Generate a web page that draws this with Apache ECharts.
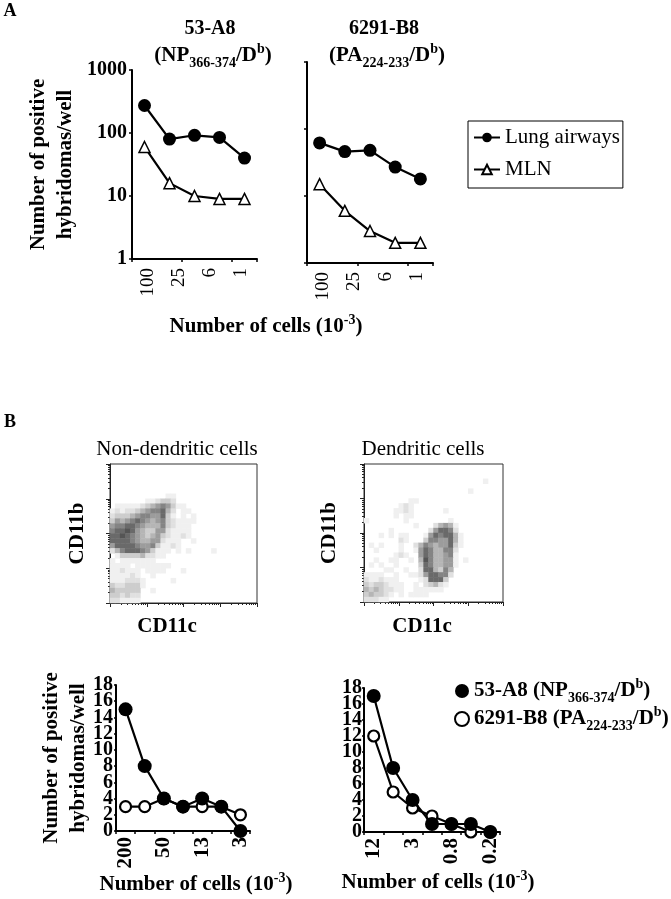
<!DOCTYPE html>
<html><head><meta charset="utf-8">
<style>html,body{margin:0;padding:0;background:#fff}#c{width:671px;height:899px}</style>
<script src="https://cdn.jsdelivr.net/npm/echarts@6/dist/echarts.min.js"></script>
</head><body><div id="c"></div>
<script>
const dosesA = ['100','50','25','6','1'];
const doseLabelsA = ['100','25','6','1'];
const lungA1 = [273,80,92,85,40];
const mlnA1  = [60,16,10,9,9];
const lungA2 = [62,46,48,27,18];
const mlnA2  = [15,6,3,2,2];
const yLogTicks = [1,10,100,1000];
const dosesB1 = ['200','100','50','25','13','6','3'];
const np53B1  = [15,8,4,3,4,3,0];
const pa62B1  = [3,3,4,3,3,3,2];
const dosesB2 = ['12','6','3','1.5','0.8','0.4','0.2'];
const np53B2  = [17,8,4,1,1,1,0];
const pa62B2  = [12,5,3,2,1,0,0];
const yTicksB = ['0','2','4','6','8','10','12','14','16','18'];
// cytometry dot density, rows top to bottom, 0 = empty, 9 = darkest
const facsNonDC = [
'00000000000000000000000000000',
'00000000000000000000000000000',
'00000000000000000000000000000',
'00000000000000000000000000000',
'00000000000000000000000000000',
'00000000000000000000000000000',
'00000000000110000000000000000',
'00000001123320000000000000000',
'01111123456531100000000000000',
'12122345667420110000000000000',
'23334566557310101000000000000',
'35456765456321111000000000000',
'56677654446321110000000000000',
'67787543355211110000000000000',
'77876543453211210000000000000',
'77776544552111001000000000000',
'57777655631121000000000000000',
'24677765311101010000100000000',
'01333342211000000000000000000',
'10111111100000000000000000000',
'11110111111100000000000000000',
'11211101111000100000000000000',
'11112100100000000000000000000',
'11122210000010000000000000000',
'32233310000000000000000000000',
'43333300100000000000000000000',
'33232200000000000000000000000',
'22111100000000000000000000000'];
const facsDC = [
'0000000000000000000000000000',
'0000000000000000000000000000',
'0000000000000000000000000000',
'0000000000000000000000001000',
'0000000000000000000000000000',
'0000000000000000000001000000',
'0000000000000000000000000000',
'0000000001100000000000000000',
'0000000121000000000000000000',
'0000001121000000100000000000',
'0000001011000000000000000000',
'1000000010000000010000000000',
'0000000000100024541000000000',
'0000010000000257762000000000',
'0001010110001576774100000000',
'0000000210003665574100000000',
'0101000100246545573100000000',
'0010000100157644662000000000',
'0000001210057644561000000000',
'0010011001048644551010000000',
'0101001000037644551000000000',
'0000110010027743640000000000',
'1111001001125776620000000000',
'2112111000012777300000000000',
'3233211100102342100000000000',
'4343221100111111000000000000',
'3433210101111000000000000000',
'2221100000000000000000000000'];
const xLogTicks = [1,10,100,1000,10000];
const densityShades = ['#ffffff','#f0f0f0','#e0e0e0','#cdcdcd','#b5b5b5','#9c9c9c','#848484','#6a6a6a','#555555','#444444'];

const serif = '"Liberation Serif","Times New Roman",serif';
const scriptRich = {
  sub:{fontFamily:serif,fontWeight:'bold',fontSize:14,verticalAlign:'bottom',lineHeight:28,padding:[8,0,0,0]},
  sup:{fontFamily:serif,fontWeight:'bold',fontSize:14,verticalAlign:'top',lineHeight:28,padding:[0,0,6,0]},
  b:{fontFamily:serif,fontWeight:'bold',fontSize:21,lineHeight:28}
};
function freeText(text,x,y,size,weight,align){
  return {text,left:x,top:y,textAlign:align||'center',textVerticalAlign:'middle',padding:0,
    textStyle:{fontFamily:serif,fontWeight:weight||'bold',fontSize:size,color:'#000',rich:scriptRich}};
}
const axisLine={show:true,lineStyle:{color:'#000',width:2}};
const tick={show:true,length:3,lineStyle:{color:'#000',width:1.5}};
function heat(rows){const o=[];rows.forEach((r,y)=>[...r].forEach((v,x)=>{if(v!=='0')o.push([x,rows.length-1-y,+v]);}));return o;}
const grids=[
 {left:132,top:70,width:125,height:189},
 {left:307,top:62,width:126,height:201},
 {left:110,top:464,width:147,height:139,show:true,borderColor:'#333',borderWidth:1,backgroundColor:'#fff'},
 {left:364,top:464,width:139,height:138,show:true,borderColor:'#333',borderWidth:1,backgroundColor:'#fff'},
 {left:116,top:685,width:134,height:146},
 {left:364,top:688,width:136,height:144}
];
const xAxis=[], yAxis=[], series=[];
function lineSer(name,data,g,sym,size,fill,bw){
  series.push({name,type:'line',data,xAxisIndex:g.x,yAxisIndex:g.y,symbol:sym,symbolSize:size,showAllSymbol:true,
    lineStyle:{color:'#000',width:2.2},itemStyle:{color:fill,borderColor:'#000',borderWidth:bw},z:g.z||2});
}
// Panel A
[[0,dosesA,true],[1,dosesA,false]].forEach(([gi,c,lab])=>{
  const xi=xAxis.length, yi=yAxis.length;
  xAxis.push({type:'category',gridIndex:gi,data:c,position:'bottom',axisLine,axisTick:{...tick,length:3},axisLabel:{show:false}});
  xAxis.push({type:'category',gridIndex:gi,data:doseLabelsA,position:'bottom',axisLine:{show:false},axisTick:{show:false},
    axisLabel:{rotate:90,margin:9,interval:0,fontFamily:serif,fontSize:19,color:'#000'}});
  yAxis.push({type:'log',logBase:10,gridIndex:gi,min:yLogTicks[0],max:yLogTicks[3],axisLine,axisTick:tick,splitLine:{show:false},
    axisLabel:{show:lab,margin:5,fontFamily:serif,fontWeight:'bold',fontSize:20,color:'#000',formatter:v=>String(Math.round(v))},
    ...(lab?{name:'Number of positive\nhybridomas/well',nameLocation:'middle',nameGap:53,nameRotate:90,
      nameTextStyle:{fontFamily:serif,fontWeight:'bold',fontSize:21,lineHeight:27,color:'#000'}}:{})});
  lineSer('Lung airways',gi===0?lungA1:lungA2,{x:xi,y:yi},'circle',13,'#000',0);
  lineSer('MLN',gi===0?mlnA1:mlnA2,{x:xi,y:yi},'triangle',11,'#fff',1.5);
});
// FACS panels
[[2,facsNonDC],[3,facsDC]].forEach(([gi,rows])=>{
  const xi=xAxis.length, yi=yAxis.length;
  const nc=rows[0].length;
  xAxis.push({type:'category',gridIndex:gi,data:[...Array(nc).keys()].map(String),show:false,boundaryGap:true});
  yAxis.push({type:'category',gridIndex:gi,data:[...Array(rows.length).keys()].map(String),show:false,boundaryGap:true});
  series.push({type:'heatmap',xAxisIndex:xi,yAxisIndex:yi,data:heat(rows),progressive:0,silent:true});
  xAxis.push({type:'log',logBase:10,gridIndex:gi,min:xLogTicks[0],max:xLogTicks[4],position:'bottom',
    axisLine:{show:true,lineStyle:{color:'#222',width:1}},axisTick:{show:true,length:4,lineStyle:{color:'#222'}},
    minorTick:{show:true,length:2,splitNumber:9,lineStyle:{color:'#222'}},splitLine:{show:false},axisLabel:{show:false}});
  yAxis.push({type:'log',logBase:10,gridIndex:gi,min:xLogTicks[0],max:xLogTicks[4],position:'left',
    axisLine:{show:true,lineStyle:{color:'#222',width:1}},axisTick:{show:true,length:4,lineStyle:{color:'#222'}},
    minorTick:{show:true,length:2,splitNumber:9,lineStyle:{color:'#222'}},splitLine:{show:false},axisLabel:{show:false},
    name:'CD11b',nameLocation:'middle',nameGap:gi===2?22:24,nameRotate:90,nameTextStyle:{fontFamily:serif,fontWeight:'bold',fontSize:21,color:'#000'}});
});
// Panel B curves
[[4,dosesB1,np53B1,pa62B1,3],[5,dosesB2,np53B2,pa62B2,2]].forEach(([gi,c,np,pa,mg])=>{
  const xi=xAxis.length, yi=yAxis.length;
  xAxis.push({type:'category',gridIndex:gi,data:c,axisLine,axisTick:{...tick,interval:0},
    axisLabel:{rotate:90,interval:1,margin:6,fontFamily:serif,fontWeight:'bold',fontSize:21,color:'#000'}});
  yAxis.push({type:'value',gridIndex:gi,min:0,max:18,interval:2,axisLine,axisTick:{...tick,length:2},splitLine:{show:false},
    axisLabel:{show:false},
    ...(gi===4?{name:'Number of positive\nhybridomas/well',nameLocation:'middle',nameGap:24,nameRotate:90,
      nameTextStyle:{fontFamily:serif,fontWeight:'bold',fontSize:21,lineHeight:27,color:'#000'}}:{})});
  yAxis.push({type:'category',gridIndex:gi,data:yTicksB,boundaryGap:false,position:'left',
    axisLine:{show:false},axisTick:{show:false},splitLine:{show:false},
    axisLabel:{show:true,interval:0,margin:mg,fontFamily:serif,fontWeight:'bold',fontSize:20,color:'#000'}});
  lineSer('6291-B8',pa,{x:xi,y:yi,z:2},'circle',11,'#fff',2.2);
  lineSer('53-A8',np,{x:xi,y:yi,z:3},'circle',14,'#000',0);
});
const option={
  animation:false,
  grid:grids,xAxis,yAxis,series,
  visualMap:{show:false,type:'piecewise',seriesIndex:[4,5],
    pieces:densityShades.map((color,i)=>({value:i,color}))},
  title:[
    freeText('A',10,11,18),
    freeText('B',10,422,18),
    freeText('53-A8',210,29,20),
    freeText('{b|(NP}{sub|366-374}{b|/D}{sup|b}{b|)}',213,56,20),
    freeText('6291-B8',384,29,20),
    freeText('{b|(PA}{sub|224-233}{b|/D}{sup|b}{b|)}',387,56,20),
    freeText('{b|Number of cells (10}{sup|-3}{b|)}',266,327,20),
    freeText('{b|Number of cells (10}{sup|-3}{b|)}',196,885,20),
    freeText('{b|Number of cells (10}{sup|-3}{b|)}',438,883,20),
    freeText('Non-dendritic cells',177,449,21,'normal'),
    freeText('Dendritic cells',423,449,21,'normal'),
    freeText('CD11c',167,627,21),
    freeText('CD11c',422,627,21)
  ],
  legend:[
    {data:['Lung airways','MLN'],orient:'vertical',left:468,top:121,padding:[6,3,8,5],itemGap:11,
     itemWidth:26,itemHeight:12,borderColor:'#000',borderWidth:1,selectedMode:false,
     textStyle:{fontFamily:serif,fontSize:21,color:'#000'}},
    {data:['53-A8','6291-B8'],orient:'vertical',left:454,top:677,padding:0,itemGap:0,icon:'circle',
     itemWidth:14,itemHeight:14,selectedMode:false,
     formatter:n=>n==='53-A8'?'{b|53-A8 (NP}{sub|366-374}{b|/D}{sup|b}{b|)}':'{b|6291-B8 (PA}{sub|224-233}{b|/D}{sup|b}{b|)}',
     textStyle:{color:'#000',rich:scriptRich}}
  ]
};
const chart=echarts.init(document.getElementById('c'),null,{renderer:'canvas'});
chart.setOption(option);
</script></body></html>
